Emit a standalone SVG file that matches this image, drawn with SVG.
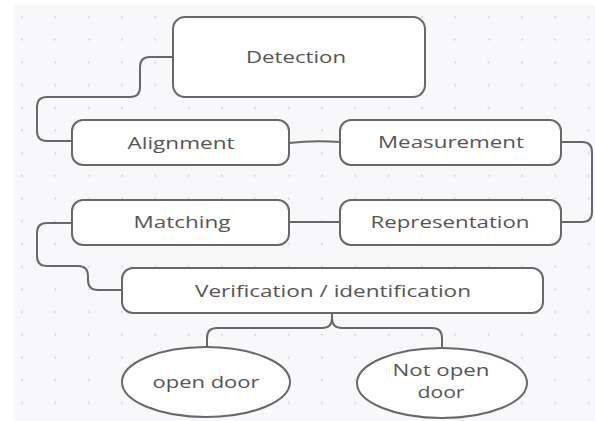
<svg xmlns="http://www.w3.org/2000/svg" width="595" height="421" viewBox="0 0 595 421">
  <defs>
    <pattern id="dots" patternUnits="userSpaceOnUse" x="5.3" y="5.6" width="33.33" height="22.7">
      <circle cx="16.67" cy="11.35" r="1.1" fill="#d6d6da"/>
    </pattern>
    <style>
      .box { fill: #ffffff; stroke: #686868; stroke-width: 2; }
      .conn { fill: none; stroke: #686868; stroke-width: 2; stroke-linejoin: round; }
      .lbl { font-family: "Open Sans", "DejaVu Sans", sans-serif; font-size: 17px; fill: #555555; text-anchor: middle; }
      .sm { font-size: 16px; }
    </style>
  </defs>
  <rect x="0" y="0" width="595" height="421" fill="#ffffff"/>
  <rect x="13" y="5" width="582" height="416" fill="#f8f8fa"/>
  <rect x="13" y="5" width="582" height="416" fill="url(#dots)"/>

  <g id="connectors">
    <path class="conn" d="M173,57 H150 Q140,57 140,67 V87 Q140,97 130,97 H47 Q37,97 37,107 V131 Q37,141 47,141 H72"/>
    <path class="conn" d="M289,143 Q314,140 340,142"/>
    <path class="conn" d="M561,142 H582 Q592,142 592,152 V212 Q592,222 582,222 H561"/>
    <path class="conn" d="M289,222 H340"/>
    <path class="conn" d="M72,223 H47 Q37,223 37,233 V256 Q37,266 47,266 H78 Q88,266 88,276 V280 Q88,290 98,290 H122"/>
    <path class="conn" d="M332,313 V318 Q332,328 322,328 H217 Q207,328 207,338 V347"/>
    <path class="conn" d="M332,318 Q332,328 342,328 H432 Q442,328 442,338 V348"/>
  </g>

  <g id="detection">
    <rect class="box" x="173" y="17" width="252" height="80" rx="12"/>
    <text class="lbl" x="296" y="63" textLength="100" lengthAdjust="spacingAndGlyphs">Detection</text>
  </g>
  <g id="alignment">
    <rect class="box" x="72" y="120" width="217" height="45" rx="11"/>
    <text class="lbl" x="181" y="149" textLength="107" lengthAdjust="spacingAndGlyphs">Alignment</text>
  </g>
  <g id="measurement">
    <rect class="box" x="340" y="120" width="221" height="45" rx="11"/>
    <text class="lbl" x="451" y="148" textLength="146" lengthAdjust="spacingAndGlyphs">Measurement</text>
  </g>
  <g id="matching">
    <rect class="box" x="72" y="200" width="217" height="45" rx="11"/>
    <text class="lbl" x="182" y="228" textLength="97" lengthAdjust="spacingAndGlyphs">Matching</text>
  </g>
  <g id="representation">
    <rect class="box" x="340" y="200" width="221" height="45" rx="11"/>
    <text class="lbl" x="450" y="228" textLength="159" lengthAdjust="spacingAndGlyphs">Representation</text>
  </g>
  <g id="verification">
    <rect class="box" x="122" y="268" width="421" height="45" rx="11"/>
    <text class="lbl" x="333" y="297" textLength="276" lengthAdjust="spacingAndGlyphs">Verification / identification</text>
  </g>
  <g id="open-door">
    <ellipse class="box" cx="206" cy="382" rx="84" ry="35"/>
    <text class="lbl" x="206" y="388" textLength="107" lengthAdjust="spacingAndGlyphs">open door</text>
  </g>
  <g id="not-open-door">
    <ellipse class="box" cx="442" cy="383" rx="85" ry="35"/>
    <text class="lbl sm" x="441" y="376" textLength="97" lengthAdjust="spacingAndGlyphs">Not open</text>
    <text class="lbl sm" x="441" y="398" textLength="47" lengthAdjust="spacingAndGlyphs">door</text>
  </g>
</svg>
